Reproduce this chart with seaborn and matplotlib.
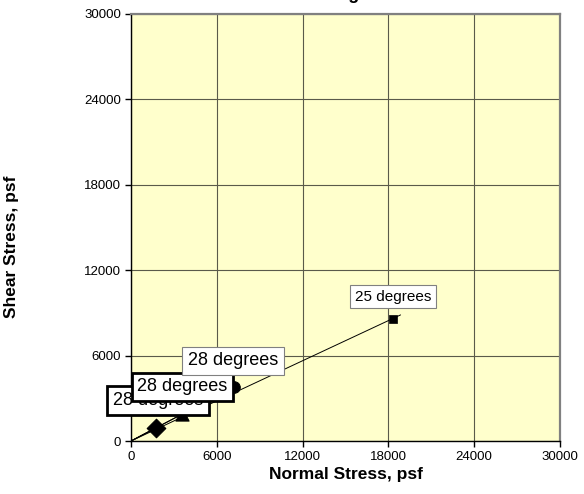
import matplotlib
matplotlib.use("Agg")
import matplotlib.pyplot as plt
import pandas as pd
import seaborn as sns

# data
normal_stress = [1750, 3600, 7200, 18300]
shear_stress = [930, 1900, 3800, 8600]
angle_labels = ['28 degrees', '28 degrees', '28 degrees', '25 degrees']
marker_shapes = ['D', '^', 'o', 's']
axis_ticks = [0, 6000, 12000, 18000, 24000, 30000]

df = pd.DataFrame({'normal': normal_stress, 'shear': shear_stress,
                   'label': angle_labels, 'marker': marker_shapes})

sns.set_style('white')
plt.rcParams['font.family'] = ['Liberation Sans', 'DejaVu Sans']
plt.rcParams['text.color'] = 'black'
plt.rcParams['axes.labelcolor'] = 'black'
plt.rcParams['xtick.color'] = 'black'
plt.rcParams['ytick.color'] = 'black'

fig = plt.figure(figsize=(5.84, 4.94), dpi=100)
ax = fig.add_axes([131 / 584, 53 / 494, 429 / 584, 427 / 494])
ax.set_facecolor('#FFFFCC')

# strength lines from the origin through each test point
for i, row in df.iterrows():
    line = pd.DataFrame({'x': [0, row['normal'] * 1.03], 'y': [0, row['shear'] * 1.03]})
    sns.lineplot(data=line, x='x', y='y', ax=ax, color='black', lw=0.7,
                 estimator=None, sort=False, zorder=3)

sizes = {'D': 90, '^': 90, 'o': 70, 's': 38}
for i, row in df.iterrows():
    sns.scatterplot(x=[row['normal']], y=[row['shear']], ax=ax, marker=row['marker'],
                    s=sizes[row['marker']], color='black', edgecolor='black', zorder=4)

# label boxes: (dx, dy) pixel offsets, font size, border width, border colour
label_style = [(2, 27, 13, 2.0, 'black'),
               (0, 27, 13, 2.0, 'black'),
               (-1, 26, 13, 0.8, '#808080'),
               (0, 22, 11, 0.8, '#808080')]
for i, row in df.iterrows():
    dx, dy, fs, bw, bc = label_style[i]
    ax.annotate(row['label'], (row['normal'], row['shear']), xytext=(dx, dy),
                textcoords='offset pixels', ha='center', va='center', fontsize=fs,
                annotation_clip=False, zorder=5 + i,
                bbox=dict(boxstyle='square,pad=0.32', fc='white', ec=bc, lw=bw))

ax.set_xlim(0, 30000)
ax.set_ylim(0, 30000)
ax.set_xticks(axis_ticks)
ax.set_yticks(axis_ticks)
ax.grid(True, color='#5a5a4a', lw=0.8)
ax.set_axisbelow(True)
ax.tick_params(axis='both', direction='out', length=4, width=1, color='black',
               labelsize=9.5, labelcolor='black', pad=3, bottom=True, left=True)
for side in ['left', 'bottom']:
    ax.spines[side].set_color('black')
    ax.spines[side].set_linewidth(1.0)
for side in ['top', 'right']:
    ax.spines[side].set_color('#808080')
    ax.spines[side].set_linewidth(1.6)

ax.set_xlabel('Normal Stress, psf', fontsize=12.5, fontweight='bold', labelpad=3,
              color='black')
ax.set_ylabel('')
fig.text(12 / 584, 0.5, 'Shear Stress, psf', rotation=90, ha='center', va='center',
         fontsize=12.5, fontweight='bold', color='black')

# title sits above the top edge, only its descender shows
fig.text(312 / 584, 1 + 1 / 494, 'Shear Strength', ha='center', va='baseline',
         fontsize=13, fontweight='bold', color='black')

fig.savefig('out.png', dpi=100)
